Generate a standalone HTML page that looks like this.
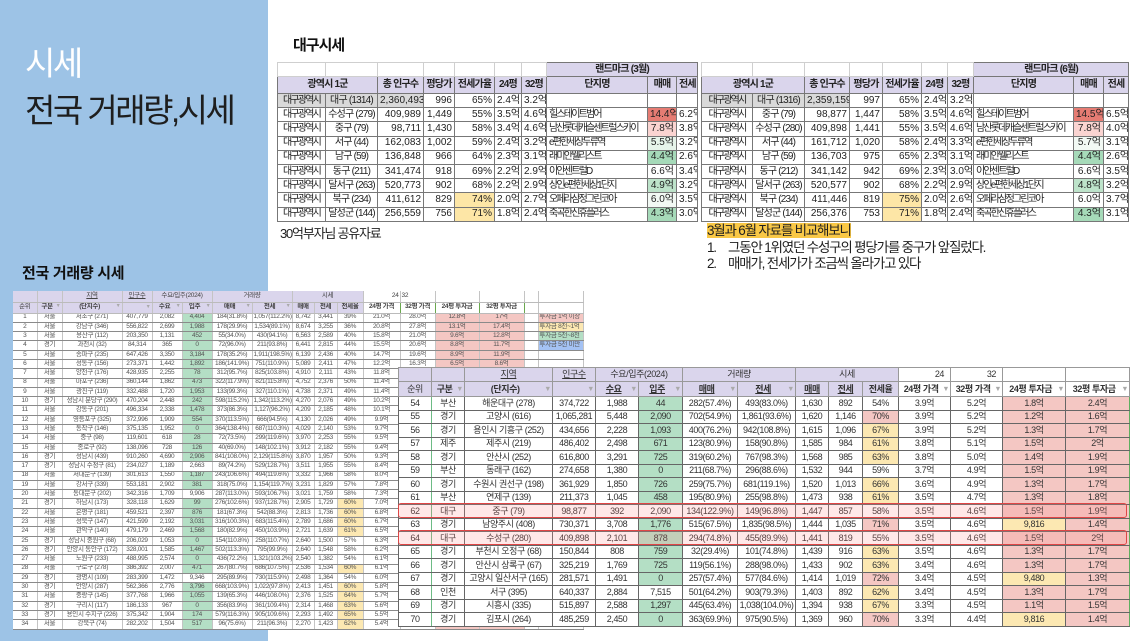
<!DOCTYPE html>
<html><head><meta charset="utf-8"><style>
*{box-sizing:border-box}
body{margin:0;width:1140px;height:641px;position:relative;overflow:hidden;background:#fff;font-family:"Liberation Sans","Noto Sans CJK KR",sans-serif;color:#222}
.abs{position:absolute;white-space:nowrap}
table{border-collapse:collapse;table-layout:fixed;position:absolute;background:#fff}
td{padding:0 2px;white-space:nowrap;overflow:hidden;line-height:1}
.t1 td{font-size:10px;border:1px solid #777;color:#222}
.t1 tr.h1 td{border-color:#cfcfcf}
.t1 tr.h1 td.lav{border-color:#777}
.t1 tr.h2 td{font-weight:bold;text-align:center;letter-spacing:-0.8px}
.lav{background:#dad5ec}
.b{font-weight:bold}
.c{text-align:center}
.r{text-align:right}
.l{text-align:left}
.k{letter-spacing:-1.8px}
.k1{letter-spacing:-0.8px}
.gray{background:#d9d9d9}
.red{color:#e84b4b}
.yl{background:#fde6a6}
.m1{background:#e67c73}
.m2{background:#fad4d1}
.m3{background:#e6f4ea}
.m4{background:#a6dab9}
.m5{background:#bde3ca}
.m6{background:#f2f9f4}
/* small table */
.s td{font-size:6.5px;color:#555;border-bottom:1px solid #8a8a8a;border-right:1px solid #c4c4c4;text-align:center;padding:0 1px;letter-spacing:-0.3px}
.s tr.sh td{border-bottom:1px solid #bbb;color:#444}
.s td.gh{border:1px solid #6aa84f;background:#fff;color:#333;font-weight:bold}
.g{background:#b4dfc5}
.p{background:#f4c7c3}
.y{background:#fce8b2}
.gt{color:#9a9a9a}
.ar{float:right;color:#aaa;font-size:0.8em}
/* big table */
.bt td{font-size:9px;color:#333;border:1px solid #666;text-align:center;padding:0 1px;letter-spacing:-0.4px}
.bt tr td:first-child{border-right-color:#6dbb85}
.bt tr td:last-child{border-right:1.5px solid #5fae5f}
.bt tr.bh1 td{border-color:#999}
.bt tr.bh2 td{font-weight:bold;border-color:#999}
.bt td.gh{border:1px solid #6aa84f;background:#fff}
.hl{position:absolute;left:398px;width:729px;height:15px;border:1.5px solid #e04646;border-radius:3px;background:rgba(255,140,140,0.2)}
</style></head><body>

<div class="abs" style="left:0;top:0;width:268px;height:641px;background:#9dc3e6"></div>
<div class="abs" style="left:25px;top:46px;font-size:33px;color:#fff;letter-spacing:-2.5px;line-height:36px">시세</div>
<div class="abs" style="left:25px;top:93px;font-size:33px;color:#1e1e1e;letter-spacing:-2.5px;line-height:36px">전국 거래량,시세</div>

<div class="abs" style="left:293px;top:34px;font-size:15px;font-weight:bold;letter-spacing:-1px;color:#111">대구시세</div>

<!-- top-left table -->
<table class="t1" style="left:277px;top:62px;width:420px">
<colgroup><col style="width:48px"><col style="width:52px"><col style="width:46px"><col style="width:31px"><col style="width:40px"><col style="width:27px"><col style="width:25px"><col style="width:101px"><col style="width:29px"><col style="width:21px"></colgroup>
<tr class="h1" style="height:14px"><td></td><td></td><td></td><td></td><td></td><td></td><td></td><td colspan="3" class="lav b c k1">랜드마크 (3월)</td></tr>
<tr class="h2 lav" style="height:17px"><td colspan="2">광역시 1군</td><td>총 인구수</td><td>평당가</td><td>전세가율</td><td>24평</td><td>32평</td><td>단지명</td><td>매매</td><td>전세</td></tr>
<tr style="height:14.2px"><td class="c k gray">대구광역시</td><td class="c k1 gray">대구 (1314)</td><td class="r gray">2,360,493</td><td class="r">996</td><td class="r">65%</td><td class="r">2.4억</td><td class="r">3.2억</td><td></td><td></td><td></td></tr>
<tr style="height:14.2px"><td class="c k">대구광역시</td><td class="c k1">수성구 (279)</td><td class="r">409,989</td><td class="r red">1,449</td><td class="r">55%</td><td class="r">3.5억</td><td class="r">4.6억</td><td class="l k">힐스테이트범어</td><td class="r m1">14.4억</td><td class="r">6.2억</td></tr>
<tr style="height:14.2px"><td class="c k">대구광역시</td><td class="c k1">중구 (79)</td><td class="r">98,711</td><td class="r red">1,430</td><td class="r">58%</td><td class="r">3.4억</td><td class="r">4.6억</td><td class="l k">남산롯데캐슬센트럴스카이</td><td class="r m2">7.8억</td><td class="r">3.8억</td></tr>
<tr style="height:14.2px"><td class="c k">대구광역시</td><td class="c k1">서구 (44)</td><td class="r">162,083</td><td class="r red">1,002</td><td class="r">59%</td><td class="r">2.4억</td><td class="r">3.2억</td><td class="l k">e편한세상두류역</td><td class="r m3">5.5억</td><td class="r">3.2억</td></tr>
<tr style="height:14.2px"><td class="c k">대구광역시</td><td class="c k1">남구 (59)</td><td class="r">136,848</td><td class="r">966</td><td class="r">64%</td><td class="r">2.3억</td><td class="r">3.1억</td><td class="l k">래미안웰리스트</td><td class="r m4">4.4억</td><td class="r">2.6억</td></tr>
<tr style="height:14.2px"><td class="c k">대구광역시</td><td class="c k1">동구 (211)</td><td class="r">341,474</td><td class="r">918</td><td class="r">69%</td><td class="r">2.2억</td><td class="r">2.9억</td><td class="l k">이안센트럴D</td><td class="r">6.6억</td><td class="r">3.4억</td></tr>
<tr style="height:14.2px"><td class="c k">대구광역시</td><td class="c k1">달서구 (263)</td><td class="r">520,773</td><td class="r">902</td><td class="r">68%</td><td class="r">2.2억</td><td class="r">2.9억</td><td class="l k">상인e편한세상1단지</td><td class="r m5">4.9억</td><td class="r">3.2억</td></tr>
<tr style="height:14.2px"><td class="c k">대구광역시</td><td class="c k1">북구 (234)</td><td class="r">411,612</td><td class="r">829</td><td class="r yl">74%</td><td class="r">2.0억</td><td class="r">2.7억</td><td class="l k">오페라삼정그린코아</td><td class="r m6">6.0억</td><td class="r">3.5억</td></tr>
<tr style="height:14.2px"><td class="c k">대구광역시</td><td class="c k1">달성군 (144)</td><td class="r">256,559</td><td class="r">756</td><td class="r yl">71%</td><td class="r">1.8억</td><td class="r">2.4억</td><td class="l k">죽곡한신휴플러스</td><td class="r m4">4.3억</td><td class="r">3.0억</td></tr>
</table>

<!-- top-right table -->
<table class="t1" style="left:701px;top:62px;width:427px">
<colgroup><col style="width:51px"><col style="width:52px"><col style="width:45px"><col style="width:33px"><col style="width:39px"><col style="width:26px"><col style="width:26px"><col style="width:100px"><col style="width:30px"><col style="width:25px"></colgroup>
<tr class="h1" style="height:14px"><td></td><td></td><td></td><td></td><td></td><td></td><td></td><td colspan="3" class="lav b c k1">랜드마크 (6월)</td></tr>
<tr class="h2 lav" style="height:17px"><td colspan="2">광역시 1군</td><td>총 인구수</td><td>평당가</td><td>전세가율</td><td>24평</td><td>32평</td><td>단지명</td><td>매매</td><td>전세</td></tr>
<tr style="height:14.2px"><td class="c k gray">대구광역시</td><td class="c k1 gray">대구 (1316)</td><td class="r gray">2,359,159</td><td class="r">997</td><td class="r">65%</td><td class="r">2.4억</td><td class="r">3.2억</td><td></td><td></td><td></td></tr>
<tr style="height:14.2px"><td class="c k">대구광역시</td><td class="c k1">중구 (79)</td><td class="r">98,877</td><td class="r red">1,447</td><td class="r">58%</td><td class="r">3.5억</td><td class="r">4.6억</td><td class="l k">힐스테이트범어</td><td class="r m1">14.5억</td><td class="r">6.5억</td></tr>
<tr style="height:14.2px"><td class="c k">대구광역시</td><td class="c k1">수성구 (280)</td><td class="r">409,898</td><td class="r red">1,441</td><td class="r">55%</td><td class="r">3.5억</td><td class="r">4.6억</td><td class="l k">남산롯데캐슬센트럴스카이</td><td class="r m2">7.8억</td><td class="r">4.0억</td></tr>
<tr style="height:14.2px"><td class="c k">대구광역시</td><td class="c k1">서구 (44)</td><td class="r">161,712</td><td class="r red">1,020</td><td class="r">58%</td><td class="r">2.4억</td><td class="r">3.3억</td><td class="l k">e편한세상두류역</td><td class="r m6">5.7억</td><td class="r">3.1억</td></tr>
<tr style="height:14.2px"><td class="c k">대구광역시</td><td class="c k1">남구 (59)</td><td class="r">136,703</td><td class="r">975</td><td class="r">65%</td><td class="r">2.3억</td><td class="r">3.1억</td><td class="l k">래미안웰리스트</td><td class="r m4">4.4억</td><td class="r">2.6억</td></tr>
<tr style="height:14.2px"><td class="c k">대구광역시</td><td class="c k1">동구 (212)</td><td class="r">341,142</td><td class="r">942</td><td class="r">69%</td><td class="r">2.3억</td><td class="r">3.0억</td><td class="l k">이안센트럴D</td><td class="r">6.6억</td><td class="r">3.5억</td></tr>
<tr style="height:14.2px"><td class="c k">대구광역시</td><td class="c k1">달서구 (263)</td><td class="r">520,577</td><td class="r">902</td><td class="r">68%</td><td class="r">2.2억</td><td class="r">2.9억</td><td class="l k">상인e편한세상1단지</td><td class="r m5">4.8억</td><td class="r">3.2억</td></tr>
<tr style="height:14.2px"><td class="c k">대구광역시</td><td class="c k1">북구 (234)</td><td class="r">411,446</td><td class="r">819</td><td class="r yl">75%</td><td class="r">2.0억</td><td class="r">2.6억</td><td class="l k">오페라삼정그린코아</td><td class="r">6.0억</td><td class="r">3.7억</td></tr>
<tr style="height:14.2px"><td class="c k">대구광역시</td><td class="c k1">달성군 (144)</td><td class="r">256,376</td><td class="r">753</td><td class="r yl">71%</td><td class="r">1.8억</td><td class="r">2.4억</td><td class="l k">죽곡한신휴플러스</td><td class="r m4">4.3억</td><td class="r">3.1억</td></tr>
</table>

<div class="abs" style="left:280px;top:223px;font-size:13px;letter-spacing:-1.2px;color:#222">30억부자님 공유자료</div>
<div class="abs" style="left:707px;top:223px;font-size:13.5px;letter-spacing:-1.2px;line-height:16.5px;color:#1e1e1e">
<span style="background:#f9c846">3월과 6월 자료를 비교해보니</span><br>
<span style="display:inline-block;width:21px">1.</span>그동안 1위였던 수성구의 평당가를 중구가 앞질렀다.<br>
<span style="display:inline-block;width:21px">2.</span>매매가, 전세가가 조금씩 올라가고 있다
</div>

<div class="abs" style="left:22px;top:262px;font-size:15px;font-weight:bold;color:#111;letter-spacing:-0.3px">전국 거래량 시세</div>

<!-- small table -->
<table class="s" style="left:13px;top:291px;width:570px">
<colgroup><col style="width:24px"><col style="width:25px"><col style="width:60px"><col style="width:30px"><col style="width:30px"><col style="width:30px"><col style="width:40px"><col style="width:40px"><col style="width:22px"><col style="width:23px"><col style="width:26px"><col style="width:37px"><col style="width:35px"><col style="width:44px"><col style="width:45px"><col style="width:14px"><col style="width:45px"></colgroup>
<tr class="sh" style="height:11px"><td class="lav"></td><td class="lav"></td><td class="lav"><u>지역</u></td><td class="lav"><u>인구수</u></td><td class="lav" colspan="2">수요/입주(2024)</td><td class="lav" colspan="2">거래량</td><td class="lav" colspan="3">시세</td><td style="text-align:right">24</td><td style="text-align:left">32</td><td></td><td></td><td></td><td></td></tr>
<tr class="sh" style="height:11px"><td class="lav">순위</td><td class="lav b">구분<span class="ar">▼</span></td><td class="lav b">(단지수)<span class="ar">▼</span></td><td class="lav"><span class="ar">▼</span></td><td class="lav b">수요<span class="ar">▼</span></td><td class="lav b">입주<span class="ar">▼</span></td><td class="lav b">매매<span class="ar">▼</span></td><td class="lav b">전세<span class="ar">▼</span></td><td class="lav b">매매</td><td class="lav b">전세</td><td class="lav b">전세율</td><td class="gh">24평 가격</td><td class="gh">32평 가격</td><td class="gh">24평 투자금</td><td class="gh">32평 투자금</td><td></td><td></td></tr>
<tr style="height:9.3px"><td>1</td><td>서울</td><td>서초구 (271)</td><td>407,779</td><td>2,082</td><td class="g">4,404</td><td>184(31.8%)</td><td>1,057(112.2%)</td><td>8,742</td><td>3,441</td><td class="gt">39%</td><td>21.0억</td><td>28.0억</td><td class="p">12.8억</td><td class="p">17억</td><td></td><td class="p" style="text-align:left">투자금 1억 이상</td></tr>
<tr style="height:9.3px"><td>2</td><td>서울</td><td>강남구 (346)</td><td>556,822</td><td>2,699</td><td class="g">1,988</td><td>178(29.9%)</td><td>1,534(89.1%)</td><td>8,674</td><td>3,255</td><td class="gt">36%</td><td>20.8억</td><td>27.8억</td><td class="p">13.1억</td><td class="p">17.4억</td><td></td><td class="y" style="text-align:left">투자금 8천~1억</td></tr>
<tr style="height:9.3px"><td>3</td><td>서울</td><td>용산구 (112)</td><td>203,350</td><td>1,131</td><td class="g">452</td><td>55(34.0%)</td><td>430(94.1%)</td><td>6,563</td><td>2,589</td><td class="gt">40%</td><td>15.8억</td><td>21.0억</td><td class="p">9.6억</td><td class="p">12.8억</td><td></td><td class="g" style="text-align:left">투자금 5천~8천</td></tr>
<tr style="height:9.3px"><td>4</td><td>경기</td><td>과천시 (32)</td><td>84,314</td><td>365</td><td class="g">0</td><td>72(96.0%)</td><td>211(93.8%)</td><td>6,441</td><td>2,815</td><td class="gt">44%</td><td>15.5억</td><td>20.6억</td><td class="p">8.8억</td><td class="p">11.7억</td><td></td><td style="background:#a4c2f4;text-align:left">투자금 5천 미만</td></tr>
<tr style="height:9.3px"><td>5</td><td>서울</td><td>송파구 (235)</td><td>647,426</td><td>3,350</td><td class="g">3,184</td><td>178(35.2%)</td><td>1,911(198.5%)</td><td>6,139</td><td>2,436</td><td class="gt">40%</td><td>14.7억</td><td>19.6억</td><td class="p">8.9억</td><td class="p">11.9억</td><td></td><td></td></tr>
<tr style="height:9.3px"><td>6</td><td>서울</td><td>성동구 (156)</td><td>273,371</td><td>1,442</td><td class="g">1,892</td><td>186(141.9%)</td><td>751(110.9%)</td><td>5,089</td><td>2,411</td><td class="gt">47%</td><td>12.2억</td><td>16.3억</td><td class="p">6.5억</td><td class="p">8.6억</td><td></td><td></td></tr>
<tr style="height:9.3px"><td>7</td><td>서울</td><td>양천구 (176)</td><td>428,935</td><td>2,255</td><td class="g">78</td><td>312(95.7%)</td><td>825(103.8%)</td><td>4,910</td><td>2,111</td><td class="gt">43%</td><td>11.8억</td><td>15.7억</td><td class="p">6.5억</td><td class="p">8.6억</td><td></td><td></td></tr>
<tr style="height:9.3px"><td>8</td><td>서울</td><td>마포구 (236)</td><td>360,144</td><td>1,862</td><td class="g">473</td><td>322(117.9%)</td><td>821(115.8%)</td><td>4,752</td><td>2,376</td><td class="gt">50%</td><td>11.4억</td><td>15.2억</td><td class="p">5.7억</td><td class="p">7.6억</td><td></td><td></td></tr>
<tr style="height:9.3px"><td>9</td><td>서울</td><td>광진구 (119)</td><td>332,488</td><td>1,720</td><td class="g">1,953</td><td>133(99.3%)</td><td>327(110.1%)</td><td>4,738</td><td>2,371</td><td class="gt">49%</td><td>11.4억</td><td>15.2억</td><td class="p">5.7억</td><td class="p">7.6억</td><td></td><td></td></tr>
<tr style="height:9.3px"><td>10</td><td>경기</td><td>성남시 분당구 (290)</td><td>470,204</td><td>2,448</td><td class="g">242</td><td>598(115.2%)</td><td>1,342(113.2%)</td><td>4,270</td><td>2,076</td><td class="gt">49%</td><td>10.2억</td><td>13.7억</td><td class="p">5.3억</td><td class="p">7.0억</td><td></td><td></td></tr>
<tr style="height:9.3px"><td>11</td><td>서울</td><td>강동구 (201)</td><td>496,334</td><td>2,338</td><td class="g">1,478</td><td>373(86.3%)</td><td>1,127(96.2%)</td><td>4,209</td><td>2,185</td><td class="gt">48%</td><td>10.1억</td><td>13.5억</td><td class="p">5.2억</td><td class="p">6.9억</td><td></td><td></td></tr>
<tr style="height:9.3px"><td>12</td><td>서울</td><td>영등포구 (325)</td><td>372,996</td><td>1,909</td><td class="g">554</td><td>370(113.5%)</td><td>666(94.5%)</td><td>4,130</td><td>2,026</td><td class="gt">49%</td><td>9.9억</td><td>13.2억</td><td class="p">5.0억</td><td class="p">6.7억</td><td></td><td></td></tr>
<tr style="height:9.3px"><td>13</td><td>서울</td><td>동작구 (146)</td><td>375,135</td><td>1,952</td><td class="g">0</td><td>364(138.4%)</td><td>687(110.3%)</td><td>4,029</td><td>2,140</td><td class="gt">53%</td><td>9.7억</td><td>12.9억</td><td class="p">4.5억</td><td class="p">6.0억</td><td></td><td></td></tr>
<tr style="height:9.3px"><td>14</td><td>서울</td><td>중구 (98)</td><td>119,601</td><td>618</td><td class="g">28</td><td>72(73.5%)</td><td>299(119.6%)</td><td>3,970</td><td>2,253</td><td class="gt">55%</td><td>9.5억</td><td>12.7억</td><td class="p">4.1억</td><td class="p">5.5억</td><td></td><td></td></tr>
<tr style="height:9.3px"><td>15</td><td>서울</td><td>종로구 (92)</td><td>138,096</td><td>728</td><td class="g">126</td><td>40(69.0%)</td><td>148(102.1%)</td><td>3,912</td><td>2,182</td><td class="gt">55%</td><td>9.4억</td><td>12.5억</td><td class="p">4.2억</td><td class="p">5.6억</td><td></td><td></td></tr>
<tr style="height:9.3px"><td>16</td><td>경기</td><td>성남시 (439)</td><td>910,260</td><td>4,690</td><td class="g">2,906</td><td>841(108.0%)</td><td>2,129(115.8%)</td><td>3,870</td><td>1,957</td><td class="gt">50%</td><td>9.3억</td><td>12.4억</td><td class="p">4.6억</td><td class="p">6.2억</td><td></td><td></td></tr>
<tr style="height:9.3px"><td>17</td><td>경기</td><td>성남시 수정구 (81)</td><td>234,027</td><td>1,189</td><td>2,663</td><td>89(74.2%)</td><td>529(128.7%)</td><td>3,511</td><td>1,955</td><td class="gt">55%</td><td>8.4억</td><td>11.2억</td><td class="p">3.7억</td><td class="p">5.0억</td><td></td><td></td></tr>
<tr style="height:9.3px"><td>18</td><td>서울</td><td>서대문구 (139)</td><td>301,613</td><td>1,550</td><td class="g">1,187</td><td>243(106.6%)</td><td>494(119.6%)</td><td>3,332</td><td>1,966</td><td class="gt">58%</td><td>8.0억</td><td>10.7억</td><td class="p">3.3억</td><td class="p">4.5억</td><td></td><td></td></tr>
<tr style="height:9.3px"><td>19</td><td>서울</td><td>강서구 (339)</td><td>553,181</td><td>2,902</td><td class="g">381</td><td>318(75.0%)</td><td>1,154(119.7%)</td><td>3,231</td><td>1,829</td><td class="gt">57%</td><td>7.8억</td><td>10.3억</td><td class="p">3.3억</td><td class="p">4.4억</td><td></td><td></td></tr>
<tr style="height:9.3px"><td>20</td><td>서울</td><td>동대문구 (202)</td><td>342,316</td><td>1,709</td><td>9,906</td><td>287(113.0%)</td><td>593(106.7%)</td><td>3,021</td><td>1,759</td><td class="gt">58%</td><td>7.3억</td><td>9.7억</td><td class="p">3.0억</td><td class="p">4.0억</td><td></td><td></td></tr>
<tr style="height:9.3px"><td>21</td><td>경기</td><td>하남시 (173)</td><td>328,118</td><td>1,629</td><td class="g">99</td><td>276(102.6%)</td><td>937(128.7%)</td><td>2,905</td><td>1,729</td><td class="y">60%</td><td>7.0억</td><td>9.3억</td><td class="p">2.8억</td><td class="p">3.7억</td><td></td><td></td></tr>
<tr style="height:9.3px"><td>22</td><td>서울</td><td>은평구 (181)</td><td>459,521</td><td>2,397</td><td class="g">876</td><td>181(67.3%)</td><td>542(88.3%)</td><td>2,813</td><td>1,736</td><td class="y">60%</td><td>6.8억</td><td>9.0억</td><td class="p">2.7억</td><td class="p">3.6억</td><td></td><td></td></tr>
<tr style="height:9.3px"><td>23</td><td>서울</td><td>성북구 (147)</td><td>421,599</td><td>2,192</td><td class="g">3,031</td><td>316(100.3%)</td><td>683(115.4%)</td><td>2,789</td><td>1,686</td><td class="y">60%</td><td>6.7억</td><td>8.9억</td><td class="p">2.6억</td><td class="p">3.5억</td><td></td><td></td></tr>
<tr style="height:9.3px"><td>24</td><td>서울</td><td>관악구 (140)</td><td>479,179</td><td>2,469</td><td class="g">1,568</td><td>180(82.9%)</td><td>450(103.9%)</td><td>2,721</td><td>1,639</td><td class="y">61%</td><td>6.5억</td><td>8.7억</td><td class="p">2.6억</td><td class="p">3.4억</td><td></td><td></td></tr>
<tr style="height:9.3px"><td>25</td><td>경기</td><td>성남시 중원구 (68)</td><td>206,029</td><td>1,053</td><td class="g">0</td><td>154(110.8%)</td><td>258(110.7%)</td><td>2,640</td><td>1,500</td><td class="gt">57%</td><td>6.3억</td><td>8.4억</td><td class="p">2.7억</td><td class="p">3.6억</td><td></td><td></td></tr>
<tr style="height:9.3px"><td>26</td><td>경기</td><td>안양시 동안구 (172)</td><td>328,001</td><td>1,585</td><td class="g">1,467</td><td>502(113.3%)</td><td>795(99.9%)</td><td>2,640</td><td>1,548</td><td class="gt">58%</td><td>6.2억</td><td>8.3억</td><td class="p">2.6억</td><td class="p">3.5억</td><td></td><td></td></tr>
<tr style="height:9.3px"><td>27</td><td>서울</td><td>노원구 (233)</td><td>488,995</td><td>2,574</td><td class="g">0</td><td>436(72.2%)</td><td>1,321(103.2%)</td><td>2,540</td><td>1,382</td><td class="gt">54%</td><td>6.1억</td><td>8.1억</td><td class="p">2.8억</td><td class="p">3.7억</td><td></td><td></td></tr>
<tr style="height:9.3px"><td>28</td><td>서울</td><td>구로구 (278)</td><td>386,392</td><td>2,007</td><td class="g">471</td><td>267(80.7%)</td><td>686(107.5%)</td><td>2,536</td><td>1,534</td><td class="y">60%</td><td>6.1억</td><td>8.1억</td><td class="p">2.4억</td><td class="p">3.2억</td><td></td><td></td></tr>
<tr style="height:9.3px"><td>29</td><td>경기</td><td>광명시 (109)</td><td>283,399</td><td>1,472</td><td>9,346</td><td>295(89.9%)</td><td>730(115.9%)</td><td>2,498</td><td>1,364</td><td class="gt">54%</td><td>6.0억</td><td>8.0억</td><td class="p">2.7억</td><td class="p">3.6억</td><td></td><td></td></tr>
<tr style="height:9.3px"><td>30</td><td>경기</td><td>안양시 (287)</td><td>562,366</td><td>2,776</td><td class="g">3,796</td><td>668(103.9%)</td><td>1,022(97.8%)</td><td>2,413</td><td>1,451</td><td class="y">60%</td><td>5.8억</td><td>7.7억</td><td class="p">2.3억</td><td class="p">3.1억</td><td></td><td></td></tr>
<tr style="height:9.3px"><td>31</td><td>서울</td><td>중랑구 (145)</td><td>377,768</td><td>1,966</td><td class="g">1,055</td><td>139(65.3%)</td><td>446(108.0%)</td><td>2,376</td><td>1,525</td><td class="y">64%</td><td>5.7억</td><td>7.6억</td><td class="p">2.0억</td><td class="p">2.7억</td><td></td><td></td></tr>
<tr style="height:9.3px"><td>32</td><td>경기</td><td>구리시 (117)</td><td>186,133</td><td>967</td><td class="g">0</td><td>356(83.9%)</td><td>361(109.4%)</td><td>2,314</td><td>1,468</td><td class="y">63%</td><td>5.6억</td><td>7.4억</td><td class="p">2.1억</td><td class="p">2.8억</td><td></td><td></td></tr>
<tr style="height:9.3px"><td>33</td><td>경기</td><td>용인시 수지구 (226)</td><td>375,342</td><td>1,904</td><td class="g">174</td><td>579(116.3%)</td><td>905(109.6%)</td><td>2,293</td><td>1,492</td><td class="y">65%</td><td>5.5억</td><td>7.3억</td><td class="p">1.9억</td><td class="p">2.6억</td><td></td><td></td></tr>
<tr style="height:9.3px"><td>34</td><td>서울</td><td>강북구 (74)</td><td>282,202</td><td>1,504</td><td class="g">517</td><td>96(75.6%)</td><td>211(96.3%)</td><td>2,270</td><td>1,423</td><td class="y">62%</td><td>5.4억</td><td>7.2억</td><td class="p">2.0억</td><td class="p">2.7억</td><td></td><td></td></tr>
</table>

<!-- big table -->
<table class="bt" style="left:398px;top:367px;width:731px">
<colgroup><col style="width:33px"><col style="width:33px"><col style="width:88px"><col style="width:43px"><col style="width:43px"><col style="width:44px"><col style="width:55px"><col style="width:58px"><col style="width:33px"><col style="width:34px"><col style="width:36px"><col style="width:52px"><col style="width:52px"><col style="width:63px"><col style="width:64px"></colgroup>
<tr class="bh1" style="height:14px"><td class="lav"></td><td class="lav"></td><td class="lav"><u>지역</u></td><td class="lav"><u>인구수</u></td><td class="lav" colspan="2">수요/입주(2024)</td><td class="lav" colspan="2">거래량</td><td class="lav" colspan="3">시세</td><td style="text-align:right;padding-right:6px">24</td><td style="text-align:right;padding-right:6px">32</td><td></td><td></td></tr>
<tr class="bh2" style="height:15px"><td class="lav" style="font-weight:normal">순위</td><td class="lav">구분<span class="ar">▼</span></td><td class="lav">(단지수)<span class="ar">▼</span></td><td class="lav"><span class="ar">▼</span></td><td class="lav"><u>수요</u><span class="ar">▼</span></td><td class="lav"><u>입주</u><span class="ar">▼</span></td><td class="lav"><u>매매</u><span class="ar">▼</span></td><td class="lav"><u>전세</u><span class="ar">▼</span></td><td class="lav"><u>매매</u></td><td class="lav"><u>전세</u></td><td class="lav">전세율</td><td class="gh">24평 가격<span class="ar">▼</span></td><td class="gh">32평 가격<span class="ar">▼</span></td><td class="gh">24평 투자금<span class="ar">▼</span></td><td class="gh">32평 투자금<span class="ar">▼</span></td></tr>
<tr style="height:13.5px"><td>54</td><td>부산</td><td>해운대구 (278)</td><td>374,722</td><td>1,988</td><td class="g">44</td><td>282(57.4%)</td><td>493(83.0%)</td><td>1,630</td><td>892</td><td class="gt">54%</td><td>3.9억</td><td>5.2억</td><td class="p">1.8억</td><td class="p">2.4억</td></tr>
<tr style="height:13.5px"><td>55</td><td>경기</td><td>고양시 (616)</td><td>1,065,281</td><td>5,448</td><td class="g">2,090</td><td>702(54.9%)</td><td>1,861(93.6%)</td><td>1,620</td><td>1,146</td><td class="p">70%</td><td>3.9억</td><td>5.2억</td><td class="p">1.2억</td><td class="p">1.6억</td></tr>
<tr style="height:13.5px"><td>56</td><td>경기</td><td>용인시 기흥구 (252)</td><td>434,656</td><td>2,228</td><td class="g">1,093</td><td>400(76.2%)</td><td>942(108.8%)</td><td>1,615</td><td>1,096</td><td class="y">67%</td><td>3.9억</td><td>5.2억</td><td class="p">1.3억</td><td class="p">1.7억</td></tr>
<tr style="height:13.5px"><td>57</td><td>제주</td><td>제주시 (219)</td><td>486,402</td><td>2,498</td><td class="g">671</td><td>123(80.9%)</td><td>158(90.8%)</td><td>1,585</td><td>984</td><td class="y">61%</td><td>3.8억</td><td>5.1억</td><td class="p">1.5억</td><td class="p">2억</td></tr>
<tr style="height:13.5px"><td>58</td><td>경기</td><td>안산시 (252)</td><td>616,800</td><td>3,291</td><td class="g">725</td><td>319(60.2%)</td><td>767(98.3%)</td><td>1,568</td><td>985</td><td class="y">63%</td><td>3.8억</td><td>5.0억</td><td class="p">1.4억</td><td class="p">1.9억</td></tr>
<tr style="height:13.5px"><td>59</td><td>부산</td><td>동래구 (162)</td><td>274,658</td><td>1,380</td><td class="g">0</td><td>211(68.7%)</td><td>296(88.6%)</td><td>1,532</td><td>944</td><td class="gt">59%</td><td>3.7억</td><td>4.9억</td><td class="p">1.5억</td><td class="p">1.9억</td></tr>
<tr style="height:13.5px"><td>60</td><td>경기</td><td>수원시 권선구 (198)</td><td>361,929</td><td>1,850</td><td class="g">726</td><td>259(75.7%)</td><td>681(119.1%)</td><td>1,520</td><td>1,013</td><td class="y">66%</td><td>3.6억</td><td>4.9억</td><td class="p">1.3억</td><td class="p">1.7억</td></tr>
<tr style="height:13.5px"><td>61</td><td>부산</td><td>연제구 (139)</td><td>211,373</td><td>1,045</td><td class="g">458</td><td>195(80.9%)</td><td>255(98.8%)</td><td>1,473</td><td>938</td><td class="y">61%</td><td>3.5억</td><td>4.7억</td><td class="p">1.3억</td><td class="p">1.8억</td></tr>
<tr style="height:13.5px"><td>62</td><td>대구</td><td>중구 (79)</td><td>98,877</td><td>392</td><td>2,090</td><td>134(122.9%)</td><td>149(96.8%)</td><td>1,447</td><td>857</td><td class="gt">58%</td><td>3.5억</td><td>4.6억</td><td class="p">1.5억</td><td class="p">1.9억</td></tr>
<tr style="height:13.5px"><td>63</td><td>경기</td><td>남양주시 (408)</td><td>730,371</td><td>3,708</td><td class="g">1,776</td><td>515(67.5%)</td><td>1,835(98.5%)</td><td>1,444</td><td>1,035</td><td class="p">71%</td><td>3.5억</td><td>4.6억</td><td class="y">9,816</td><td class="p">1.4억</td></tr>
<tr style="height:13.5px"><td>64</td><td>대구</td><td>수성구 (280)</td><td>409,898</td><td>2,101</td><td class="g">878</td><td>294(74.8%)</td><td>455(89.9%)</td><td>1,441</td><td>819</td><td class="gt">55%</td><td>3.5억</td><td>4.6억</td><td class="p">1.5억</td><td class="p">2억</td></tr>
<tr style="height:13.5px"><td>65</td><td>경기</td><td>부천시 오정구 (68)</td><td>150,844</td><td>808</td><td class="g">759</td><td>32(29.4%)</td><td>101(74.8%)</td><td>1,439</td><td>916</td><td class="y">63%</td><td>3.5억</td><td>4.6억</td><td class="p">1.3억</td><td class="p">1.7억</td></tr>
<tr style="height:13.5px"><td>66</td><td>경기</td><td>안산시 상록구 (67)</td><td>325,219</td><td>1,769</td><td class="g">725</td><td>119(56.1%)</td><td>288(98.0%)</td><td>1,433</td><td>902</td><td class="y">63%</td><td>3.4억</td><td>4.6억</td><td class="p">1.3억</td><td class="p">1.7억</td></tr>
<tr style="height:13.5px"><td>67</td><td>경기</td><td>고양시 일산서구 (165)</td><td>281,571</td><td>1,491</td><td class="g">0</td><td>257(57.4%)</td><td>577(84.6%)</td><td>1,414</td><td>1,019</td><td class="p">72%</td><td>3.4억</td><td>4.5억</td><td class="y">9,480</td><td class="p">1.3억</td></tr>
<tr style="height:13.5px"><td>68</td><td>인천</td><td>서구 (395)</td><td>640,337</td><td>2,884</td><td>7,515</td><td>501(64.2%)</td><td>903(79.3%)</td><td>1,403</td><td>892</td><td class="y">62%</td><td>3.4억</td><td>4.5억</td><td class="p">1.3억</td><td class="p">1.7억</td></tr>
<tr style="height:13.5px"><td>69</td><td>경기</td><td>시흥시 (335)</td><td>515,897</td><td>2,588</td><td class="g">1,297</td><td>445(63.4%)</td><td>1,038(104.0%)</td><td>1,394</td><td>938</td><td class="y">67%</td><td>3.3억</td><td>4.5억</td><td class="p">1.1억</td><td class="p">1.5억</td></tr>
<tr style="height:13.5px"><td>70</td><td>경기</td><td>김포시 (264)</td><td>485,259</td><td>2,450</td><td class="g">0</td><td>363(69.9%)</td><td>975(90.5%)</td><td>1,369</td><td>960</td><td class="p">70%</td><td>3.3억</td><td>4.4억</td><td class="y">9,816</td><td class="p">1.4억</td></tr>
</table>

<div class="hl" style="top:503px"></div>
<div class="hl" style="top:530px"></div>

</body></html>
